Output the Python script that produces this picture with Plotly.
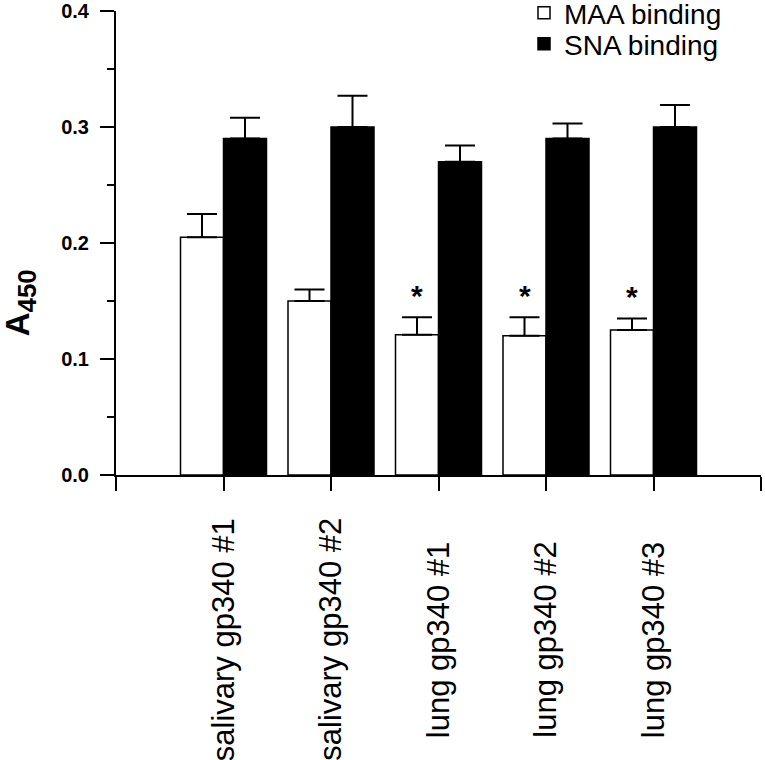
import plotly.graph_objects as go

categories = ["salivary gp340 #1", "salivary gp340 #2", "lung gp340 #1", "lung gp340 #2", "lung gp340 #3"]
positions = [1, 2, 3, 4, 5]
maa_values = [0.205, 0.150, 0.121, 0.120, 0.125]
maa_errors = [0.020, 0.010, 0.015, 0.016, 0.010]
sna_values = [0.290, 0.300, 0.270, 0.290, 0.300]
sna_errors = [0.018, 0.027, 0.014, 0.013, 0.019]
significant = [False, False, True, True, True]
y_ticks = [0.0, 0.1, 0.2, 0.3, 0.4]

FONT = "Liberation Sans, Arial, sans-serif"

fig = go.Figure()
fig.add_trace(go.Bar(
    x=positions, y=maa_values, name="MAA binding", legend="legend",
    marker=dict(color="white", line=dict(color="black", width=1.5)),
    error_y=dict(type="data", array=maa_errors, arrayminus=[0] * len(maa_errors),
                 symmetric=False, color="black", thickness=2, width=15),
))
fig.add_trace(go.Bar(
    x=positions, y=sna_values, name="SNA binding", legend="legend2",
    marker=dict(color="black", line=dict(color="black", width=1.5)),
    error_y=dict(type="data", array=sna_errors, arrayminus=[0] * len(sna_errors),
                 symmetric=False, color="black", thickness=2, width=15),
))

annotations = []
for p, c in zip(positions, categories):
    annotations.append(dict(
        x=p, y=-0.355, xref="x", yref="paper", text=c, textangle=-90,
        showarrow=False, xanchor="center", yanchor="middle",
        font=dict(family=FONT, size=31, color="black"),
    ))
for p, v, e, s in zip(positions, maa_values, maa_errors, significant):
    if s:
        annotations.append(dict(
            x=p - 0.2, y=v + e + 0.019, xref="x", yref="y", text="*",
            showarrow=False, xanchor="center", yanchor="middle",
            font=dict(family=FONT, size=30, color="black", weight="bold"),
        ))
annotations.append(dict(
    x=-0.149, y=0.372, xref="paper", yref="paper",
    text="A<span style=\"font-size:37px\"><sub>450</sub></span>",
    textangle=-90, showarrow=False, xanchor="center", yanchor="middle",
    font=dict(family=FONT, size=33, color="black", weight="bold"),
))

legend_common = dict(xref="paper", yref="paper", xanchor="left", yanchor="middle",
                     font=dict(family=FONT, size=28, color="black"),
                     bgcolor="rgba(0,0,0,0)", borderwidth=0)
lx = (524 - 116) / 645

fig.update_layout(
    width=765, height=760,
    margin=dict(l=116, r=4, t=11, b=285, autoexpand=False),
    paper_bgcolor="white", plot_bgcolor="white",
    barmode="group", bargap=0.2, bargroupgap=0,
    showlegend=True,
    legend=dict(x=lx, y=(475 - 13) / 464, **legend_common),
    legend2=dict(x=lx, y=(475 - 44) / 464, **legend_common),
    annotations=annotations,
    xaxis=dict(range=[0, 6], tickvals=[0, 1, 2, 3, 4, 5, 6], showticklabels=False,
               ticks="outside", ticklen=14, tickwidth=2, tickcolor="black",
               showline=True, linewidth=2, linecolor="black",
               showgrid=False, zeroline=False),
    yaxis=dict(range=[0, 0.4], tickvals=y_ticks, tickformat=".1f",
               ticks="outside", ticklen=14, tickwidth=2, tickcolor="black",
               ticklabelstandoff=7,
               minor=dict(dtick=0.05, ticks="outside", ticklen=7, tickwidth=2, tickcolor="black"),
               showline=True, linewidth=2, linecolor="black",
               showgrid=False, zeroline=False,
               tickfont=dict(family=FONT, size=20, color="black", weight="bold")),
)

fig.write_html("out.html", config={"displayModeBar": False},
               post_script="document.body.style.margin='0';document.body.style.overflow='hidden';")
